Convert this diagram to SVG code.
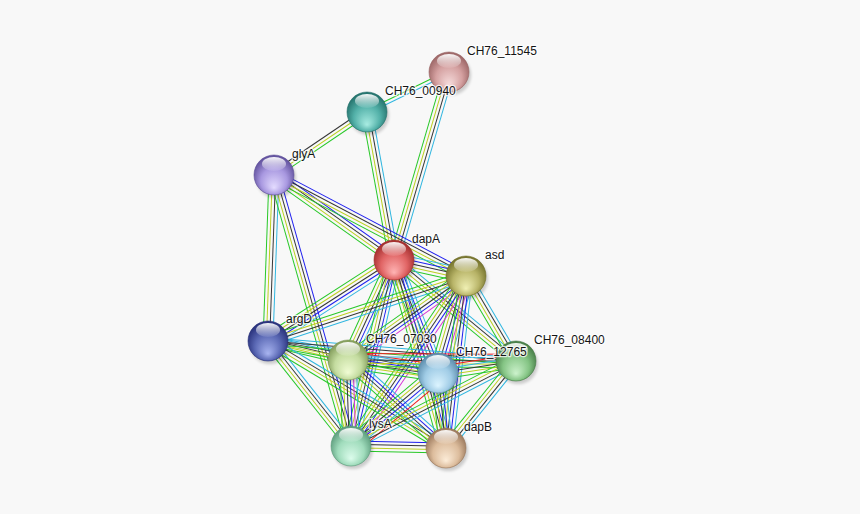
<svg xmlns="http://www.w3.org/2000/svg" xmlns:xlink="http://www.w3.org/1999/xlink" width="860" height="514" viewBox="0 0 860 514">
<style>
.cy{stroke:#30b6e0}.dk{stroke:#363636}.yl{stroke:#bccf22}.gn{stroke:#28c828}.bl{stroke:#2020ee}.mg{stroke:#d636d6}.rd{stroke:#f01c1c}
#edges path{fill:none;stroke-width:2}
.sh{fill:#000;opacity:.18;filter:url(#blur)}
.gl{fill:url(#gloss)}
text{font-family:"Liberation Sans",Arial,sans-serif;font-size:12px;fill:#141414;stroke:#fff;stroke-width:2.5;stroke-opacity:.75;paint-order:stroke;stroke-linejoin:round}
</style>
<defs>
<filter id="blur" x="-50%" y="-50%" width="200%" height="200%"><feGaussianBlur stdDeviation="1.5"/></filter>
<linearGradient id="gloss" x1="0" y1="0" x2="0" y2="1"><stop offset="0" stop-color="#fff" stop-opacity=".95"/><stop offset="1" stop-color="#fff" stop-opacity=".08"/></linearGradient>
<g id="a2"><path class="cy" d="M0-1.65h1"/><path class="gn" d="M0 1.65h1"/></g>
<g id="a3"><path class="cy" d="M0-3.3h1"/><path class="dk" d="M0 0h1"/><path class="gn" d="M0 3.3h1"/></g>
<g id="t3"><path class="gn" d="M0-3.3h1"/><path class="yl" d="M0 0h1"/><path class="dk" d="M0 3.3h1"/></g>
<g id="a4"><path class="cy" d="M0-4.95h1"/><path class="dk" d="M0-1.65h1"/><path class="yl" d="M0 1.65h1"/><path class="gn" d="M0 4.95h1"/></g>
<g id="b4"><path class="bl" d="M0-4.95h1"/><path class="dk" d="M0-1.65h1"/><path class="yl" d="M0 1.65h1"/><path class="gn" d="M0 4.95h1"/></g>
<g id="c5"><path class="cy" d="M0-6.6h1"/><path class="bl" d="M0-3.3h1"/><path class="dk" d="M0 0h1"/><path class="yl" d="M0 3.3h1"/><path class="gn" d="M0 6.6h1"/></g>
<g id="m5"><path class="mg" d="M0-6.6h1"/><path class="bl" d="M0-3.3h1"/><path class="dk" d="M0 0h1"/><path class="yl" d="M0 3.3h1"/><path class="gn" d="M0 6.6h1"/></g>
<g id="r5"><path class="rd" d="M0-6.6h1"/><path class="cy" d="M0-3.3h1"/><path class="dk" d="M0 0h1"/><path class="yl" d="M0 3.3h1"/><path class="gn" d="M0 6.6h1"/></g>
<g id="m6"><path class="cy" d="M0-8.25h1"/><path class="mg" d="M0-4.95h1"/><path class="bl" d="M0-1.65h1"/><path class="dk" d="M0 1.65h1"/><path class="yl" d="M0 4.95h1"/><path class="gn" d="M0 8.25h1"/></g>
<g id="r6"><path class="rd" d="M0-8.25h1"/><path class="cy" d="M0-4.95h1"/><path class="bl" d="M0-1.65h1"/><path class="dk" d="M0 1.65h1"/><path class="yl" d="M0 4.95h1"/><path class="gn" d="M0 8.25h1"/></g>
<radialGradient id="gK" cx="50%" cy="55%" r="55%" fx="50%" fy="82%"><stop offset="0" stop-color="#f6dcdc"/><stop offset=".6" stop-color="#d4a0a0"/><stop offset="1" stop-color="#9a6464"/></radialGradient>
<radialGradient id="gT" cx="50%" cy="55%" r="55%" fx="50%" fy="82%"><stop offset="0" stop-color="#a8ece2"/><stop offset=".6" stop-color="#52b0a8"/><stop offset="1" stop-color="#23706a"/></radialGradient>
<radialGradient id="gG" cx="50%" cy="55%" r="55%" fx="50%" fy="82%"><stop offset="0" stop-color="#e4dcff"/><stop offset=".6" stop-color="#a898e0"/><stop offset="1" stop-color="#5e4e9a"/></radialGradient>
<radialGradient id="gD" cx="50%" cy="55%" r="55%" fx="50%" fy="82%"><stop offset="0" stop-color="#ffb4b4"/><stop offset=".6" stop-color="#e06464"/><stop offset="1" stop-color="#a02c2c"/></radialGradient>
<radialGradient id="gS" cx="50%" cy="55%" r="55%" fx="50%" fy="82%"><stop offset="0" stop-color="#f0f0b4"/><stop offset=".6" stop-color="#b8b468"/><stop offset="1" stop-color="#72702a"/></radialGradient>
<radialGradient id="gR" cx="50%" cy="55%" r="55%" fx="50%" fy="82%"><stop offset="0" stop-color="#a8b4f0"/><stop offset=".6" stop-color="#5a68b4"/><stop offset="1" stop-color="#262e78"/></radialGradient>
<radialGradient id="gC" cx="50%" cy="55%" r="55%" fx="50%" fy="82%"><stop offset="0" stop-color="#f0fcd4"/><stop offset=".6" stop-color="#c4dca0"/><stop offset="1" stop-color="#809a58"/></radialGradient>
<radialGradient id="gU" cx="50%" cy="55%" r="55%" fx="50%" fy="82%"><stop offset="0" stop-color="#dcf4ff"/><stop offset=".6" stop-color="#a0cce6"/><stop offset="1" stop-color="#5a8aaa"/></radialGradient>
<radialGradient id="gE" cx="50%" cy="55%" r="55%" fx="50%" fy="82%"><stop offset="0" stop-color="#ccf2cc"/><stop offset=".6" stop-color="#84c484"/><stop offset="1" stop-color="#447a44"/></radialGradient>
<radialGradient id="gL" cx="50%" cy="55%" r="55%" fx="50%" fy="82%"><stop offset="0" stop-color="#dcfcec"/><stop offset=".6" stop-color="#a0dcbc"/><stop offset="1" stop-color="#5a9a7a"/></radialGradient>
<radialGradient id="gB" cx="50%" cy="55%" r="55%" fx="50%" fy="82%"><stop offset="0" stop-color="#fcecd8"/><stop offset=".6" stop-color="#dcbc9c"/><stop offset="1" stop-color="#98765a"/></radialGradient>
</defs>
<rect width="860" height="514" fill="#f8f8f8"/>
<g id="edges">
<use href="#a2" transform="translate(449 72) rotate(154) scale(91.2 1)"/>
<use href="#a4" transform="translate(449 72) rotate(106.3) scale(195.9 1)"/>
<use href="#t3" transform="translate(367 112) rotate(145.9) scale(112.3 1)"/>
<use href="#a4" transform="translate(367 112) rotate(79.66) scale(150.4 1)"/>
<use href="#b4" transform="translate(274 175) rotate(35.31) scale(147.1 1)"/>
<use href="#b4" transform="translate(274 175) rotate(27.75) scale(216.9 1)"/>
<use href="#a4" transform="translate(274 175) rotate(92.07) scale(166.1 1)"/>
<use href="#b4" transform="translate(274 175) rotate(74.14) scale(281.7 1)"/>
<use href="#c5" transform="translate(394 260) rotate(12.53) scale(73.8 1)"/>
<use href="#c5" transform="translate(394 260) rotate(147.26) scale(149.8 1)"/>
<use href="#c5" transform="translate(394 260) rotate(114.7) scale(110.1 1)"/>
<use href="#c5" transform="translate(394 260) rotate(68.73) scale(121.3 1)"/>
<use href="#a4" transform="translate(394 260) rotate(39.62) scale(158.4 1)"/>
<use href="#c5" transform="translate(394 260) rotate(103.02) scale(190.9 1)"/>
<use href="#c5" transform="translate(394 260) rotate(74.54) scale(195.1 1)"/>
<use href="#a4" transform="translate(466 276) rotate(161.83) scale(208.4 1)"/>
<use href="#m5" transform="translate(466 276) rotate(144.55) scale(144.8 1)"/>
<use href="#m6" transform="translate(466 276) rotate(106.1) scale(101 1)"/>
<use href="#a4" transform="translate(466 276) rotate(59.53) scale(98.6 1)"/>
<use href="#m5" transform="translate(466 276) rotate(124.08) scale(205.2 1)"/>
<use href="#c5" transform="translate(466 276) rotate(96.63) scale(173.2 1)"/>
<use href="#a4" transform="translate(268 341) rotate(13.36) scale(82.2 1)"/>
<use href="#a4" transform="translate(268 341) rotate(10.66) scale(173 1)"/>
<use href="#a3" transform="translate(268 341) rotate(4.61) scale(248.8 1)"/>
<use href="#a4" transform="translate(268 341) rotate(51.67) scale(133.8 1)"/>
<use href="#a4" transform="translate(268 341) rotate(31.01) scale(207.7 1)"/>
<use href="#r6" transform="translate(348 360) rotate(8.22) scale(90.9 1)"/>
<use href="#r5" transform="translate(348 360) rotate(0.34) scale(168 1)"/>
<use href="#m6" transform="translate(348 360) rotate(88) scale(86.05 1)"/>
<use href="#c5" transform="translate(348 360) rotate(41.92) scale(131.7 1)"/>
<use href="#r5" transform="translate(438 373) rotate(-8.75) scale(78.9 1)"/>
<use href="#r6" transform="translate(438 373) rotate(140) scale(113.6 1)"/>
<use href="#c5" transform="translate(438 373) rotate(83.91) scale(75.4 1)"/>
<use href="#a4" transform="translate(516 361) rotate(152.75) scale(185.6 1)"/>
<use href="#a4" transform="translate(516 361) rotate(128.82) scale(111.7 1)"/>
<use href="#b4" transform="translate(351 446) rotate(1.21) scale(95 1)"/>
</g>
<g id="n-CH76_11545"><circle class="sh" cx="451" cy="75" r="20"/><circle cx="449" cy="72" r="20" fill="url(#gK)" stroke="#9a6464" stroke-opacity=".6"/><ellipse class="gl" cx="449" cy="61" rx="12" ry="7"/><text x="467" y="55">CH76_11545</text></g>
<g id="n-CH76_00940"><circle class="sh" cx="369" cy="115" r="20"/><circle cx="367" cy="112" r="20" fill="url(#gT)" stroke="#23706a" stroke-opacity=".6"/><ellipse class="gl" cx="367" cy="101" rx="12" ry="7"/><text x="385" y="94.5">CH76_00940</text></g>
<g id="n-glyA"><circle class="sh" cx="276" cy="178" r="20"/><circle cx="274" cy="175" r="20" fill="url(#gG)" stroke="#5e4e9a" stroke-opacity=".6"/><ellipse class="gl" cx="274" cy="164" rx="12" ry="7"/><text x="292" y="157.5">glyA</text></g>
<g id="n-dapA"><circle class="sh" cx="396" cy="263" r="20"/><circle cx="394" cy="260" r="20" fill="url(#gD)" stroke="#a02c2c" stroke-opacity=".6"/><ellipse class="gl" cx="394" cy="249" rx="12" ry="7"/><text x="412" y="242.5">dapA</text></g>
<g id="n-asd"><circle class="sh" cx="468" cy="279" r="20"/><circle cx="466" cy="276" r="20" fill="url(#gS)" stroke="#72702a" stroke-opacity=".6"/><ellipse class="gl" cx="466" cy="265" rx="12" ry="7"/><text x="485" y="258.5">asd</text></g>
<g id="n-argD"><circle class="sh" cx="270" cy="344" r="20"/><circle cx="268" cy="341" r="20" fill="url(#gR)" stroke="#262e78" stroke-opacity=".6"/><ellipse class="gl" cx="268" cy="330" rx="12" ry="7"/><text x="286" y="322.5">argD</text></g>
<g id="n-CH76_07030"><circle class="sh" cx="350" cy="363" r="20"/><circle cx="348" cy="360" r="20" fill="url(#gC)" stroke="#809a58" stroke-opacity=".6"/><ellipse class="gl" cx="348" cy="349" rx="12" ry="7"/><text x="366" y="342.5">CH76_07030</text></g>
<g id="n-CH76_08400"><circle class="sh" cx="518" cy="364" r="20"/><circle cx="516" cy="361" r="20" fill="url(#gE)" stroke="#447a44" stroke-opacity=".6"/><ellipse class="gl" cx="516" cy="350" rx="12" ry="7"/><text x="534" y="343.5">CH76_08400</text></g>
<g id="n-CH76_12765"><circle class="sh" cx="440" cy="376" r="20"/><circle cx="438" cy="373" r="20" fill="url(#gU)" stroke="#5a8aaa" stroke-opacity=".6"/><ellipse class="gl" cx="438" cy="362" rx="12" ry="7"/><text x="456" y="355.5">CH76_12765</text></g>
<g id="n-lysA"><circle class="sh" cx="353" cy="449" r="20"/><circle cx="351" cy="446" r="20" fill="url(#gL)" stroke="#5a9a7a" stroke-opacity=".6"/><ellipse class="gl" cx="351" cy="435" rx="12" ry="7"/><text x="369" y="428">lysA</text></g>
<g id="n-dapB"><circle class="sh" cx="448" cy="451" r="20"/><circle cx="446" cy="448" r="20" fill="url(#gB)" stroke="#98765a" stroke-opacity=".6"/><ellipse class="gl" cx="446" cy="437" rx="12" ry="7"/><text x="464" y="430.5">dapB</text></g>
</svg>
